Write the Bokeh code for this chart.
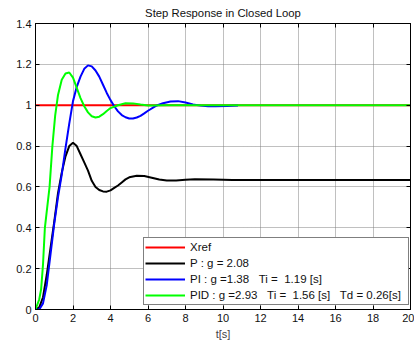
from bokeh.plotting import figure
from bokeh.models import (LinearAxis, FixedTicker, Legend, LegendItem, Range1d,
                          CustomLabelingPolicy)
from bokeh.embed import file_html
from bokeh.resources import INLINE

# Closed-loop step responses of the three controllers
t_ref = [0, 20]
y_ref = [1, 1]

t_p = [0, 0.2, 0.4, 0.6, 0.8, 1.0, 1.2, 1.4, 1.6, 1.8, 2.0, 2.2, 2.4, 2.6, 2.8,
       3.0, 3.2, 3.4, 3.6, 3.8, 4.0, 4.2, 4.4, 4.6, 4.8, 5.0, 5.4, 5.8, 6.2,
       6.6, 7.0, 7.5, 8.0, 8.5, 9.5, 10.5, 20]
y_p = [0, 0.01, 0.06, 0.17, 0.3, 0.43, 0.57, 0.67, 0.75, 0.8, 0.816, 0.8,
       0.76, 0.72, 0.68, 0.63, 0.6, 0.585, 0.578, 0.577, 0.583, 0.595, 0.607,
       0.622, 0.637, 0.647, 0.655, 0.653, 0.645, 0.636, 0.631, 0.631, 0.635,
       0.637, 0.636, 0.634, 0.634]

t_pi = [0, 0.2, 0.4, 0.6, 0.8, 1.0, 1.2, 1.4, 1.6, 1.8, 2.0, 2.2, 2.4, 2.6,
        2.8, 3.0, 3.2, 3.4, 3.6, 3.8, 4.0, 4.2, 4.4, 4.6, 4.8, 5.0, 5.2, 5.4,
        5.6, 5.8, 6.0, 6.4, 6.8, 7.2, 7.6, 8.0, 8.4, 8.8, 9.2, 9.6, 10.2, 10.8]
y_pi = [0, 0.0, 0.03, 0.12, 0.27, 0.42, 0.55, 0.66, 0.79, 0.91, 1.02, 1.09,
        1.14, 1.178, 1.195, 1.19, 1.17, 1.14, 1.1, 1.06, 1.025, 0.995,
        0.97, 0.952, 0.941, 0.935, 0.935, 0.94, 0.948, 0.96, 0.973, 0.996,
        1.01, 1.018, 1.02, 1.013, 1.004, 0.998, 0.995, 0.995, 0.996, 0.998]

t_pid = [0, 0.2, 0.3, 0.4, 0.5, 0.6, 0.75, 0.9, 1.05, 1.2, 1.4, 1.6, 1.8, 2.0,
         2.2, 2.4, 2.6, 2.8, 3.0, 3.2, 3.4, 3.6, 3.8, 4.0, 4.4, 4.8, 5.2, 5.6,
         6.0, 7.0, 20]
y_pid = [0, 0.05, 0.1, 0.22, 0.4, 0.48, 0.6, 0.8, 0.95, 1.05, 1.125, 1.155,
         1.16, 1.135, 1.085, 1.035, 0.995, 0.965, 0.946, 0.94, 0.944, 0.956,
         0.972, 0.986, 1.0, 1.01, 1.009, 1.003, 0.999, 1.0, 1.0]

# non-breaking spaces keep the column gaps in the legend texts
NB = "\u00a0"
labels = ["Xref",
          "P : g = 2.08",
          f"PI : g =1.38 {NB}{NB}Ti = {NB}1.19 [s]",
          f"PID : g =2.93 {NB}{NB}Ti = {NB}1.56 [s] {NB}{NB}Td = 0.26[s]"]

x_ticks = [0, 2, 4, 6, 8, 10, 12, 14, 16, 18, 20]
y_ticks = [0, 0.2, 0.4, 0.6, 0.8, 1.0, 1.2, 1.4]
y_tick_labels = ["0", "0.2", "0.4", "0.6", "0.8", "1", "1.2", "1.4"]

FONT = "Liberation Sans"

p = figure(width=414, height=342, output_backend="svg", toolbar_location=None,
           x_range=Range1d(0, 20), y_range=Range1d(0, 1.4),
           title="Step Response in Closed Loop",
           min_border_left=35, min_border_right=4, min_border_top=4,
           min_border_bottom=4)
p.background_fill_color = "white"
p.border_fill_color = "white"
p.outline_line_color = "black"
p.outline_line_width = 1

p.title.align = "center"
p.title.text_font = FONT
p.title.text_font_size = "11.3px"
p.title.text_font_style = "normal"
p.title.text_color = "#111111"
p.title.standoff = 9

lw = 2
r_ref = p.line(t_ref, y_ref, line_color="#ff0000", line_width=lw)
r_p = p.line(t_p, y_p, line_color="black", line_width=lw)
r_pi = p.line(t_pi, y_pi, line_color="#0000ff", line_width=lw)
r_pid = p.line(t_pid, y_pid, line_color="#00ff00", line_width=lw)

for ax in (p.xaxis[0], p.yaxis[0]):
    ax.major_tick_in = 4
    ax.major_tick_out = 0
    ax.minor_tick_line_color = None
    ax.axis_line_color = "black"
    ax.major_tick_line_color = "black"
    ax.major_label_text_font = FONT
    ax.major_label_text_font_size = "11px"
    ax.major_label_text_color = "#111111"
    ax.major_label_standoff = 4

p.xaxis[0].ticker = FixedTicker(ticks=x_ticks)
p.yaxis[0].ticker = FixedTicker(ticks=y_ticks)
p.yaxis[0].major_label_overrides = {v: s for v, s in zip(y_ticks, y_tick_labels)}
p.xaxis[0].axis_label = "t[s]"
p.xaxis[0].axis_label_text_font = FONT
p.xaxis[0].axis_label_text_font_size = "11px"
p.xaxis[0].axis_label_text_font_style = "normal"
p.xaxis[0].axis_label_standoff = 3

# box ticks on top and right, without labels
no_labels = "for (const i of indices) indices.unset(i); return indices"
top = LinearAxis(ticker=FixedTicker(ticks=x_ticks), major_tick_in=4,
                 major_tick_out=0, minor_tick_line_color=None,
                 major_label_policy=CustomLabelingPolicy(code=no_labels),
                 major_label_text_font_size="0px", major_label_standoff=0)
right = LinearAxis(ticker=FixedTicker(ticks=y_ticks), major_tick_in=4,
                   major_tick_out=0, minor_tick_line_color=None,
                   major_label_policy=CustomLabelingPolicy(code=no_labels),
                   major_label_text_font_size="0px", major_label_standoff=0)
p.add_layout(top, "above")
p.add_layout(right, "right")

p.grid.grid_line_color = "#808080"
p.grid.grid_line_dash = "1 1"
p.xgrid.ticker = FixedTicker(ticks=x_ticks)
p.ygrid.ticker = FixedTicker(ticks=y_ticks)

legend = Legend(items=[LegendItem(label=labels[0], renderers=[r_ref]),
                       LegendItem(label=labels[1], renderers=[r_p]),
                       LegendItem(label=labels[2], renderers=[r_pi]),
                       LegendItem(label=labels[3], renderers=[r_pid])],
                location=(108, 4))
legend.border_line_color = "black"
legend.border_line_width = 1
legend.background_fill_color = "white"
legend.background_fill_alpha = 1
legend.label_text_font = FONT
legend.label_text_font_size = "11.5px"
legend.label_text_color = "#111111"
legend.padding = 1
legend.spacing = 0
legend.margin = 0
legend.label_height = 16
legend.glyph_height = 16
legend.glyph_width = 40
legend.label_width = 217
legend.label_standoff = 5
p.add_layout(legend, "center")

open("out.html", "w").write(file_html(p, INLINE))
